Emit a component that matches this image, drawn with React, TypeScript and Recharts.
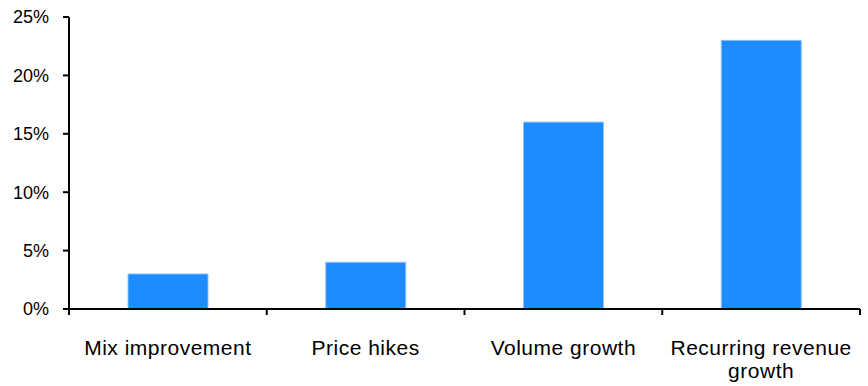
import { BarChart, Bar, XAxis, YAxis } from "recharts";

const categories = ["Mix improvement", "Price hikes", "Volume growth", "Recurring revenue growth"];
const growthShare = [3, 4, 16, 23];
const yTicks = [0, 5, 10, 15, 20, 25];

const data = categories.map((name, i) => ({ name, value: growthShare[i] }));

const WIDTH = 868;
const HEIGHT = 386;
const Y_AXIS_W = 69;
const RIGHT = 8;
const BAND = (WIDTH - Y_AXIS_W - RIGHT) / categories.length;
const FONT = "'Liberation Sans', Arial, sans-serif";

// wrap long category names onto a second line
function wrapLabel(label: string, maxChars = 18): string[] {
  const words = label.split(" ");
  const lines: string[] = [];
  let cur = "";
  for (const w of words) {
    const next = cur ? cur + " " + w : w;
    if (next.length > maxChars && cur) {
      lines.push(cur);
      cur = w;
    } else {
      cur = next;
    }
  }
  if (cur) lines.push(cur);
  return lines;
}

function CategoryTick(props: any) {
  const { x, y, payload, index } = props;
  const lines = wrapLabel(String(payload.value));
  const left = x - BAND / 2;
  return (
    <g>
      <line x1={left} y1={y} x2={left} y2={y + 6} stroke="#000" strokeWidth={2} />
      {index === categories.length - 1 && (
        <line x1={x + BAND / 2} y1={y} x2={x + BAND / 2} y2={y + 6} stroke="#000" strokeWidth={2} />
      )}
      <text
        x={x}
        y={y + 46}
        textAnchor="middle"
        fill="#000"
        fontSize={21}
        fontFamily={FONT}
        letterSpacing={0.5}
      >
        {lines.map((l, i) => (
          <tspan key={i} x={x} dy={i === 0 ? 0 : 23}>
            {l}
          </tspan>
        ))}
      </text>
    </g>
  );
}

export default function App() {
  return (
    <div style={{ position: "fixed", left: 0, top: 0, background: "#fff" }}>
      <BarChart
        width={WIDTH}
        height={HEIGHT}
        data={data}
        margin={{ top: 17, right: RIGHT, left: 0, bottom: 0 }}
      >
        <XAxis
          dataKey="name"
          height={HEIGHT - 309}
          axisLine={{ stroke: "#000", strokeWidth: 2 }}
          tickLine={false}
          tickSize={0}
          tickMargin={0}
          interval={0}
          tick={<CategoryTick />}
        />
        <YAxis
          width={Y_AXIS_W}
          domain={[0, 25]}
          ticks={yTicks}
          interval={0}
          tickFormatter={(v: number) => `${v}%`}
          axisLine={{ stroke: "#000", strokeWidth: 2 }}
          tickLine={{ stroke: "#000", strokeWidth: 2 }}
          tickSize={6}
          tickMargin={14}
          tick={{ fill: "#000", fontSize: 18, fontFamily: FONT }}
        />
        <Bar
          dataKey="value"
          barSize={80}
          fill="#1E8BFF"
          stroke="#8CC3FF"
          strokeWidth={1}
          isAnimationActive={false}
        />
      </BarChart>
    </div>
  );
}
